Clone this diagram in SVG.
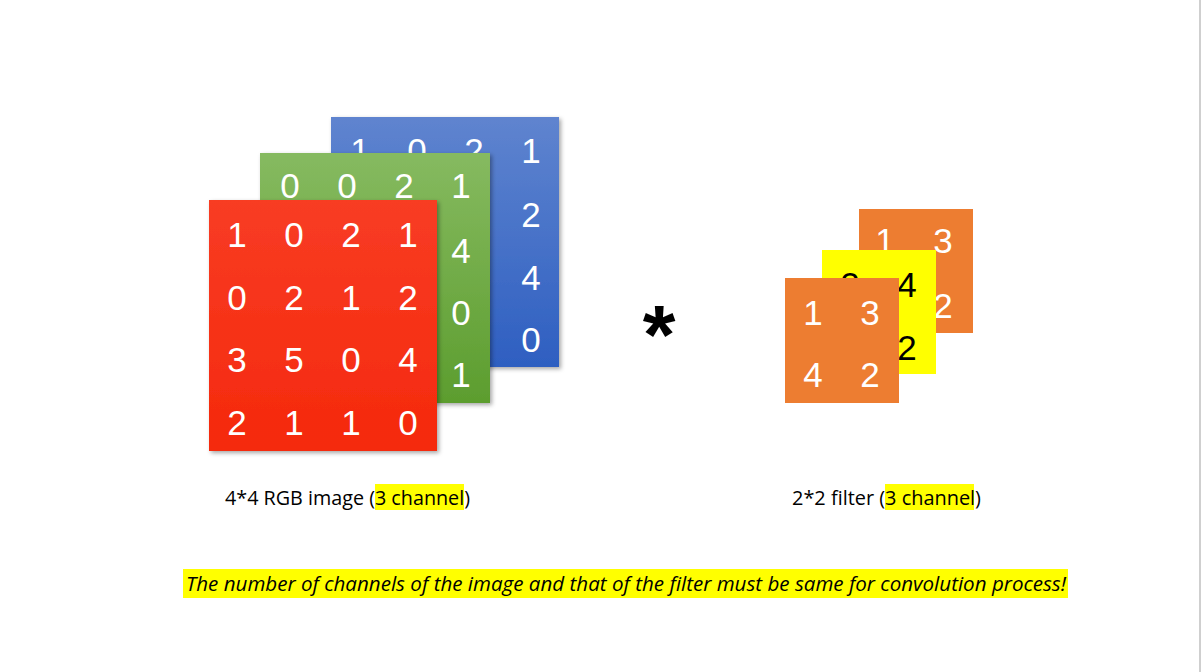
<svg xmlns="http://www.w3.org/2000/svg" width="1201" height="672" viewBox="0 0 1201 672">
<defs>
<linearGradient id="gBlue" x1="0" y1="0" x2="0" y2="1"><stop offset="0" stop-color="#5f84cf"/><stop offset="1" stop-color="#2e5fc1"/></linearGradient>
<linearGradient id="gGreen" x1="0" y1="0" x2="0" y2="1"><stop offset="0" stop-color="#86ba60"/><stop offset="1" stop-color="#5c9d2e"/></linearGradient>
<linearGradient id="gRed" x1="0" y1="0" x2="0" y2="1"><stop offset="0" stop-color="#f83c24"/><stop offset="1" stop-color="#f5290c"/></linearGradient>
<filter id="sh" x="-10%" y="-10%" width="125%" height="125%"><feDropShadow dx="2" dy="2" stdDeviation="2" flood-color="#000" flood-opacity="0.35"/></filter>
</defs>
<style>
.d{font-family:"Liberation Sans",Arial,sans-serif;font-size:35px;fill:#fff;text-anchor:middle}
.k{fill:#000}
.lbl{font-family:"Open Sans","Liberation Sans",sans-serif;font-size:20.5px;fill:#000}
.note{font-family:"Open Sans","Liberation Sans",sans-serif;font-size:20.5px;font-style:italic;fill:#000}
.hl{fill:#ffff00}
</style>
<rect width="1201" height="672" fill="#fff"/>
<rect x="1199" y="0" width="2" height="672" fill="#cfcfcf"/>

<g id="blue-channel">
<rect x="331" y="117" width="228" height="250" fill="url(#gBlue)" filter="url(#sh)"/>
<text class="d" x="360" y="163">1</text><text class="d" x="417" y="163">0</text><text class="d" x="474" y="163">2</text><text class="d" x="531" y="163">1</text>
<text class="d" x="531" y="227">2</text><text class="d" x="531" y="290">4</text><text class="d" x="531" y="352">0</text>
</g>
<g id="green-channel">
<rect x="260" y="153" width="230" height="250" fill="url(#gGreen)" filter="url(#sh)"/>
<text class="d" x="290" y="198">0</text><text class="d" x="347" y="198">0</text><text class="d" x="404" y="198">2</text><text class="d" x="461" y="198">1</text>
<text class="d" x="461" y="263">4</text><text class="d" x="461" y="325">0</text><text class="d" x="461" y="387">1</text>
</g>
<g id="red-channel">
<rect x="209" y="200" width="228" height="251" fill="url(#gRed)" filter="url(#sh)"/>
<text class="d" x="237" y="247">1</text><text class="d" x="294" y="247">0</text><text class="d" x="351" y="247">2</text><text class="d" x="408" y="247">1</text>
<text class="d" x="237" y="310">0</text><text class="d" x="294" y="310">2</text><text class="d" x="351" y="310">1</text><text class="d" x="408" y="310">2</text>
<text class="d" x="237" y="372">3</text><text class="d" x="294" y="372">5</text><text class="d" x="351" y="372">0</text><text class="d" x="408" y="372">4</text>
<text class="d" x="237" y="435">2</text><text class="d" x="294" y="435">1</text><text class="d" x="351" y="435">1</text><text class="d" x="408" y="435">0</text>
</g>

<g id="operator">
<text x="659" y="364" font-family="Liberation Sans,Arial,sans-serif" font-weight="bold" font-size="84" text-anchor="middle" fill="#000">*</text>
</g>

<g id="filter-back">
<rect x="859" y="209" width="114" height="124" fill="#ed7d31"/>
<text class="d" x="885" y="253">1</text><text class="d" x="943" y="253">3</text>
<text class="d" x="943" y="318">2</text>
</g>
<g id="filter-middle">
<rect x="822" y="250" width="114" height="124" fill="#ffff00"/>
<text class="d k" x="850" y="297">2</text><text class="d k" x="907" y="297">4</text>
<text class="d k" x="907" y="360">2</text>
</g>
<g id="filter-front">
<rect x="785" y="278" width="114" height="125" fill="#ed7d31"/>
<text class="d" x="813" y="325">1</text><text class="d" x="870" y="325">3</text>
<text class="d" x="813" y="387">4</text><text class="d" x="870" y="387">2</text>
</g>

<g id="image-label">
<rect class="hl" x="375" y="484" width="89" height="26"/>
<text class="lbl" x="225" y="505" textLength="245" lengthAdjust="spacingAndGlyphs">4*4 RGB image (3 channel)</text>
</g>
<g id="filter-label">
<rect class="hl" x="885" y="484" width="89" height="26"/>
<text class="lbl" x="792" y="505" textLength="189" lengthAdjust="spacingAndGlyphs">2*2 filter (3 channel)</text>
</g>
<g id="note">
<rect class="hl" x="183" y="569" width="885" height="29"/>
<text class="note" x="186" y="591" textLength="880" lengthAdjust="spacingAndGlyphs">The number of channels of the image and that of the filter must be same for convolution process!</text>
</g>
</svg>
